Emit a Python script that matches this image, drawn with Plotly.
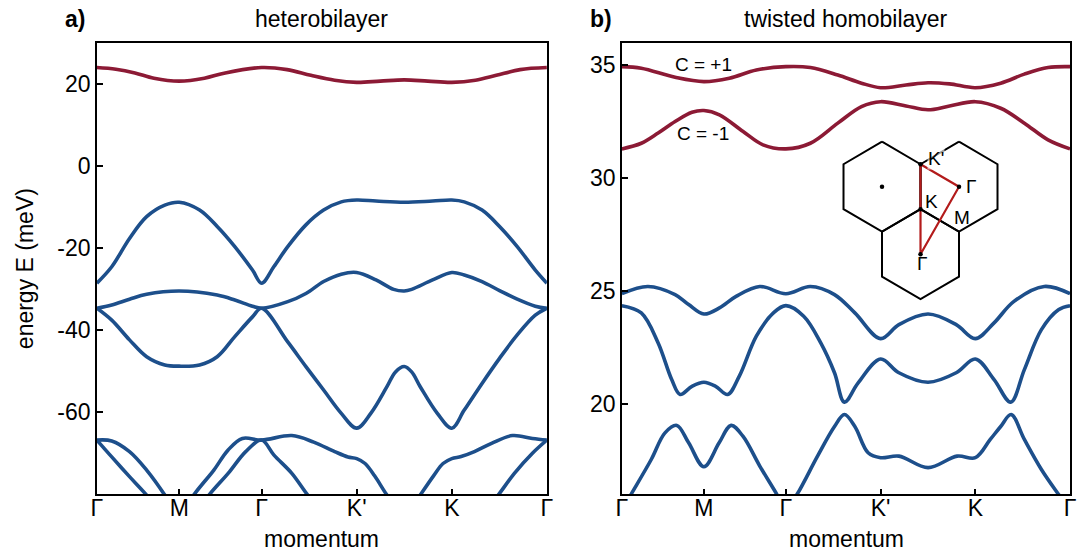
import numpy as np
import plotly.graph_objects as go

RED = "#8c1a35"
BLUE = "#1d4f8b"
TRI_RED = "#b31b1b"
FONT = "Liberation Sans, Arial, sans-serif"

# high-symmetry path Γ-M-Γ-K'-K-Γ (|Γ-K| = 1)
path_ticks = [0, 0.866, 1.732, 2.732, 3.732, 4.732]
path_labels = ["Γ", "M", "Γ", "K'", "K", "Γ"]

het_ticks = [-60, -40, -20, 0, 20]
het_tick_text = ["-60", "-40", "-20", "0", "20"]
hom_ticks = [20, 25, 30, 35]
hom_tick_text = ["20", "25", "30", "35"]

# ---------------- heterobilayer bands (meV) ----------------
het_c_k = [0, 0.2, 0.4, 0.6, 0.866, 1.13, 1.35, 1.732, 2.0, 2.25, 2.5, 2.732,
           2.98, 3.232, 3.48, 3.732, 3.98, 4.2, 4.45, 4.732]
het_c_E = [23.9, 23.5, 22.6, 21.3, 20.6, 21.3, 22.6, 23.9, 23.4, 22.0, 20.8, 20.3,
           20.6, 20.9, 20.6, 20.3, 20.8, 22.0, 23.4, 23.9]

het_v1_k = [0, 0.156, 0.343, 0.523, 0.714, 0.866, 1.08, 1.265, 1.45, 1.636, 1.732,
            1.86, 2.007, 2.198, 2.384, 2.57, 2.732, 2.935, 3.232, 3.53, 3.732,
            3.863, 4.05, 4.234, 4.42, 4.61, 4.732]
het_v1_E = [-28.6, -24.6, -17.7, -12.4, -9.6, -8.9, -10.8, -14.8, -19.7, -25.4, -28.6,
            -24.6, -19.7, -14.4, -10.8, -8.8, -8.35, -8.6, -8.9, -8.6, -8.35,
            -8.8, -10.8, -14.8, -19.7, -25.4, -28.6]

het_v2_k = [0, 0.156, 0.343, 0.523, 0.866, 1.265, 1.45, 1.636, 1.732, 2.007, 2.198,
            2.384, 2.57, 2.732, 2.935, 3.12, 3.232, 3.31, 3.53, 3.732, 3.863, 4.05,
            4.234, 4.42, 4.61, 4.732]
het_v2_E = [-34.7, -33.9, -32.5, -31.3, -30.5, -31.5, -32.7, -34.2, -34.7, -33.1, -31.1,
            -28.2, -26.4, -26.0, -27.8, -30.1, -30.5, -30.1, -27.8, -26.0, -26.6, -28.2,
            -30.4, -32.5, -34.2, -34.7]

het_v3_k = [0, 0.156, 0.343, 0.523, 0.714, 0.866, 1.08, 1.265, 1.45, 1.636, 1.732,
            2.007, 2.198, 2.384, 2.57, 2.732, 2.88, 3.05, 3.14, 3.232, 3.31, 3.4,
            3.58, 3.732, 3.863, 4.05, 4.234, 4.42, 4.61, 4.732]
het_v3_E = [-34.7, -37.6, -42.4, -46.5, -48.5, -48.8, -48.5, -46.5, -41.6, -36.8, -34.7,
            -42.9, -48.9, -54.6, -60.3, -63.9, -60.3, -53.8, -50.2, -48.9, -50.2, -53.8,
            -60.3, -63.9, -59.5, -53.0, -46.9, -41.2, -36.4, -34.7]

het_v4_k = [0, 0.156, 0.343, 0.523, 0.714, 0.866, 1.018, 1.23, 1.38, 1.53, 1.732,
            2.05, 2.28, 2.5, 2.64, 2.732, 2.82, 2.92, 3.05, 3.232, 3.4, 3.54, 3.64,
            3.732, 3.83, 3.97, 4.15, 4.37, 4.58, 4.732]
het_v4_E = [-66.8, -67.0, -69.6, -74.1, -80.2, -86.0, -80.2, -74.1, -69.2, -66.4, -66.8,
            -65.7, -67.3, -69.6, -70.9, -71.3, -72.5, -75.5, -80.2, -86.0, -80.2, -75.5, -72.5,
            -71.3, -70.8, -69.6, -67.6, -65.7, -66.4, -66.8]

het_v5_k = [0, 0.156, 0.343, 0.523, 0.866, 1.178, 1.38, 1.565, 1.732, 1.86, 2.05,
            2.217, 2.5, 3.232, 3.95, 4.22, 4.39, 4.58, 4.732]
het_v5_E = [-66.8, -70.9, -75.7, -80.2, -90.0, -80.2, -74.9, -69.6, -66.8, -70.4, -74.9,
            -80.2, -88.0, -95.0, -88.0, -80.2, -74.9, -70.0, -66.8]

# ---------------- twisted homobilayer bands (meV) ----------------
hom_c1_k = [0, 0.205, 0.562, 0.866, 1.135, 1.42, 1.732, 1.99, 2.28, 2.53, 2.732,
            3.0, 3.233, 3.46, 3.732, 4.0, 4.25, 4.5, 4.732]
hom_c1_E = [34.93, 34.86, 34.46, 34.27, 34.42, 34.78, 34.93, 34.89, 34.56, 34.2, 34.0,
            34.12, 34.22, 34.17, 34.0, 34.2, 34.6, 34.89, 34.93]

hom_c2_k = [0, 0.205, 0.383, 0.562, 0.74, 0.866, 1.03, 1.28, 1.49, 1.732, 1.99, 2.28,
            2.53, 2.732, 3.0, 3.233, 3.46, 3.732, 4.0, 4.25, 4.5, 4.732]
hom_c2_E = [31.29, 31.54, 31.99, 32.5, 32.91, 32.99, 32.8, 32.06, 31.47, 31.29, 31.54, 32.43,
            33.16, 33.38, 33.19, 33.02, 33.19, 33.38, 33.09, 32.43, 31.69, 31.29]

hom_v1_k = [0, 0.275, 0.562, 0.705, 0.866, 1.03, 1.206, 1.456, 1.732, 1.99, 2.245, 2.46,
            2.732, 2.925, 3.233, 3.53, 3.732, 3.93, 4.14, 4.46, 4.732]
hom_v1_E = [24.88, 25.2, 24.84, 24.4, 23.98, 24.25, 24.76, 25.2, 24.88, 25.2, 24.84, 24.03,
            22.89, 23.51, 23.98, 23.51, 22.89, 23.59, 24.54, 25.2, 24.88]

hom_v2_k = [0, 0.205, 0.383, 0.526, 0.615, 0.74, 0.866, 0.99, 1.117, 1.24, 1.42, 1.6,
            1.732, 1.92, 2.1, 2.245, 2.35, 2.495, 2.732, 2.925, 3.233, 3.53, 3.732, 3.93,
            4.106, 4.25, 4.43, 4.61, 4.732]
hom_v2_E = [24.35, 24.03, 22.7, 21.08, 20.42, 20.78, 20.96, 20.78, 20.42, 21.23, 23.0, 24.03,
            24.35, 23.88, 22.7, 21.38, 20.08, 20.93, 21.99, 21.38, 20.96, 21.38, 21.99, 21.08,
            20.08, 21.52, 23.29, 24.17, 24.35]

hom_v3_k = [0, 0.097, 0.31, 0.455, 0.58, 0.705, 0.866, 1.027, 1.153, 1.278, 1.456, 1.636,
            1.732, 1.85, 2.066, 2.245, 2.35, 2.46, 2.6, 2.732, 2.925, 3.233, 3.54, 3.732,
            3.89, 4.0, 4.11, 4.25, 4.43, 4.61, 4.732]
hom_v3_E = [15.3, 16.0, 17.54, 18.72, 19.05, 18.28, 17.22, 18.28, 19.05, 18.57, 17.25, 16.0,
            15.3, 16.0, 17.69, 19.0, 19.53, 19.0, 17.84, 17.62, 17.69, 17.18, 17.69, 17.62,
            18.43, 19.0, 19.53, 18.43, 17.1, 16.0, 15.3]

# ---------------- Brillouin-zone sketch ----------------
hex_cx = [0.0, 1.732, 0.866]
hex_cy = [0.0, 0.0, -1.5]
tri_x = [0.866, 1.732, 0.866, 0.866]
tri_y = [0.5, 0.0, -1.5, 0.5]
dot_x = [0.0, 0.866, 1.732, 0.866, 0.866]
dot_y = [0.0, 0.5, 0.0, -0.5, -1.5]
bz_labels = ["K'", "Γ", "K", "M", "Γ"]
bz_label_x = [1.22, 2.0, 1.12, 1.79, 0.90]
bz_label_y = [0.63, 0.0, -0.33, -0.69, -1.70]

fig = go.Figure()


def band(k, E, color, xa, ya):
    fig.add_trace(go.Scatter(x=k, y=E, mode="lines", xaxis=xa, yaxis=ya,
                             line=dict(color=color, width=3.6, shape="spline", smoothing=1.0),
                             showlegend=False, hoverinfo="skip"))


for k, E in [(het_v1_k, het_v1_E), (het_v2_k, het_v2_E), (het_v3_k, het_v3_E),
             (het_v4_k, het_v4_E), (het_v5_k, het_v5_E)]:
    band(k, E, BLUE, "x", "y")
band(het_c_k, het_c_E, RED, "x", "y")

for k, E in [(hom_v1_k, hom_v1_E), (hom_v2_k, hom_v2_E), (hom_v3_k, hom_v3_E)]:
    band(k, E, BLUE, "x2", "y2")
band(hom_c1_k, hom_c1_E, RED, "x2", "y2")
band(hom_c2_k, hom_c2_E, RED, "x2", "y2")

# hexagonal zones
ang = np.deg2rad(90 + 60 * np.arange(7))
for cx, cy in zip(hex_cx, hex_cy):
    fig.add_trace(go.Scatter(x=cx + np.cos(ang), y=cy + np.sin(ang), mode="lines",
                             xaxis="x3", yaxis="y3", line=dict(color="black", width=2),
                             showlegend=False, hoverinfo="skip"))
fig.add_trace(go.Scatter(x=tri_x, y=tri_y, mode="lines", xaxis="x3", yaxis="y3",
                         line=dict(color=TRI_RED, width=2.2), showlegend=False, hoverinfo="skip"))
fig.add_trace(go.Scatter(x=dot_x, y=dot_y, mode="markers", xaxis="x3", yaxis="y3",
                         marker=dict(color="black", size=4.5), showlegend=False, hoverinfo="skip"))

annotations = []
for t, x, y in zip(bz_labels, bz_label_x, bz_label_y):
    annotations.append(dict(text=t, x=x, y=y, xref="x3", yref="y3", showarrow=False,
                            font=dict(size=19, color="black", family=FONT),
                            bgcolor="rgba(255,255,255,0.6)" if t == "K'" else None,
                            borderpad=0))

axis_common = dict(showline=True, linecolor="black", linewidth=1.5, mirror=True,
                   ticks="inside", ticklen=6, tickwidth=1.5, tickcolor="black",
                   showgrid=False, zeroline=False,
                   tickfont=dict(size=23, color="black", family=FONT))

ydom = [1 - 494.3 / 556, 1 - 42.5 / 556]
xdom1 = [92 / 1078, 547.5 / 1078]
xdom2 = [623.4 / 1078, 1077 / 1078]

fig.update_layout(
    width=1078, height=556,
    margin=dict(l=0, r=0, t=0, b=0),
    paper_bgcolor="white", plot_bgcolor="rgba(0,0,0,0)",
    xaxis=dict(domain=xdom1, range=[0, 4.732], tickvals=path_ticks, ticktext=path_labels,
               anchor="y", ticklabelstandoff=-8, **axis_common),
    yaxis=dict(domain=ydom, range=[-80, 30], tickvals=het_ticks, ticktext=het_tick_text,
               anchor="x", **axis_common),
    xaxis2=dict(domain=xdom2, range=[0, 4.732], tickvals=path_ticks, ticktext=path_labels,
                anchor="y2", ticklabelstandoff=-8, **axis_common),
    yaxis2=dict(domain=ydom, range=[16, 36], tickvals=hom_ticks, ticktext=hom_tick_text,
                anchor="x2", **axis_common),
    xaxis3=dict(domain=[841.7 / 1078, 1021.7 / 1078], range=[-1, 3], visible=False,
                anchor="y3"),
    yaxis3=dict(domain=[1 - 308.2 / 556, 1 - 132.7 / 556], range=[-2.7, 1.2], visible=False,
                anchor="x3"),
)


def ptext(text, px, py, size=23, bold=False, angle=0):
    annotations.append(dict(text=f"<b>{text}</b>" if bold else text,
                            x=px / 1078, y=1 - py / 556, xref="paper", yref="paper",
                            showarrow=False, textangle=angle,
                            font=dict(size=size, color="black", family=FONT),
                            xanchor="center", yanchor="middle"))


ptext("a)", 69.5, 19, bold=True)
ptext("heterobilayer", 319.5, 19)
ptext("b)", 602, 19, bold=True)
ptext("twisted homobilayer", 850.5, 19)
ptext("momentum", 319.5, 539)
ptext("momentum", 850.5, 539)
ptext("energy E (meV)", 20, 268.4, angle=-90)
ptext("C = +1", 705.6, 65, size=19)
ptext("C = -1", 706, 133.5, size=19)

fig.update_layout(annotations=annotations)
fig.write_html("out.html")
